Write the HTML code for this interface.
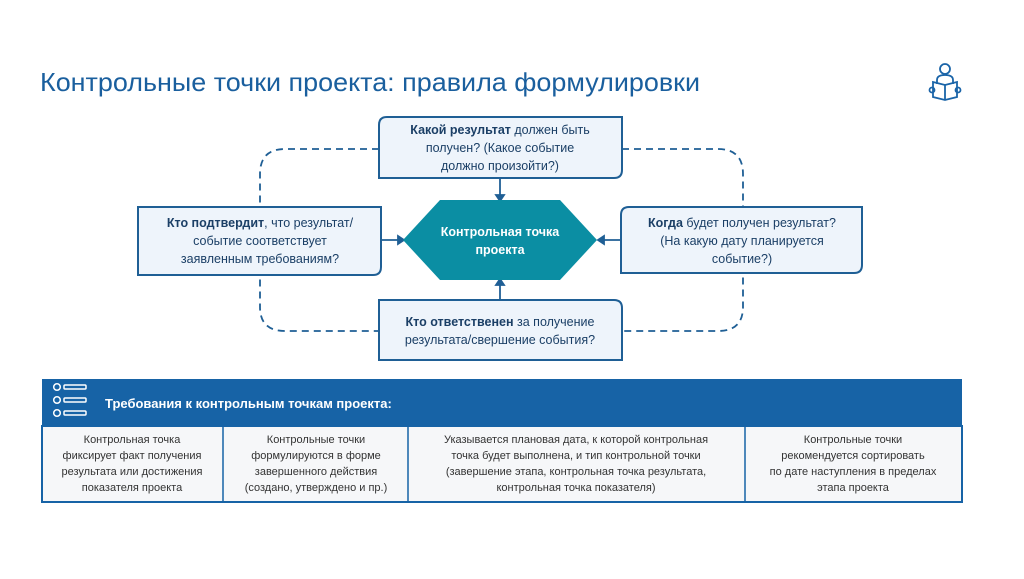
<!DOCTYPE html>
<html><head><meta charset="utf-8"><style>
html,body{margin:0;padding:0;background:#fff;}
body{width:1024px;height:574px;overflow:hidden;font-family:"Liberation Sans","DejaVu Sans",sans-serif;}
</style></head><body>
<svg width="1024" height="574" viewBox="0 0 1024 574" xmlns="http://www.w3.org/2000/svg" font-family="Liberation Sans, DejaVu Sans, sans-serif">
<rect width="1024" height="574" fill="#fff"/>
<text x="40" y="91" font-size="26" fill="#1a5f9e" textLength="660" lengthAdjust="spacingAndGlyphs">Контрольные точки проекта: правила формулировки</text>
<!-- icon -->
<g fill="none" stroke="#1a64a8" stroke-width="1.8">
<circle cx="945" cy="69" r="5"/>
<path d="M937 84 v-4 q0-5 8-5 q8 0 8 5 v4"/>
<path d="M933 82 l12 3 l12-3 v15 l-12 3 l-12-3 z"/>
<path d="M945 85 v15"/>
<circle cx="932" cy="90" r="2.5"/><circle cx="958" cy="90" r="2.5"/>
</g>
<!-- dashed loop -->
<path d="M379 149 H285 Q260 149 260 174 V307 Q260 331 285 331 H379 M622 149 H718 Q743 149 743 174 V307 Q743 331 718 331 H622" fill="none" stroke="#1f5f95" stroke-width="1.8" stroke-dasharray="7,5"/>
<!-- arrows -->
<g stroke="#1f5f95" stroke-width="1.8" fill="#1f5f95">
<line x1="500" y1="178" x2="500" y2="198"/><path d="M496 195 L500 201 L504 195 z"/>
<line x1="381" y1="240" x2="401" y2="240"/><path d="M398 236 L404 240 L398 244 z"/>
<line x1="621" y1="240" x2="601" y2="240"/><path d="M604 236 L598 240 L604 244 z"/>
<line x1="500" y1="300" x2="500" y2="283"/><path d="M496 285 L500 279 L504 285 z"/>
</g>
<!-- boxes -->
<g fill="#eef4fb" stroke="#1f5f95" stroke-width="2">
<path d="M387 117 H622 V170 Q622 178 614 178 H379 V125 Q379 117 387 117 z"/>
<path d="M138 207 H381 V267 Q381 275 373 275 H138 z"/>
<path d="M629 207 H862 V265 Q862 273 854 273 H621 V215 Q621 207 629 207 z"/>
<path d="M379 300 H614 Q622 300 622 308 V360 H379 z"/>
</g>
<polygon points="403,240 440,200 560,200 597,240 560,280 440,280" fill="#0b8ea3"/>
<g font-size="12.5" fill="#1b3f66" text-anchor="middle">
<text x="500" y="134"><tspan font-weight="bold">Какой результат</tspan> должен быть</text>
<text x="500" y="152">получен? (Какое событие</text>
<text x="500" y="170">должно произойти?)</text>
<text x="260" y="227"><tspan font-weight="bold">Кто подтвердит</tspan>, что результат/</text>
<text x="260" y="245">событие соответствует</text>
<text x="260" y="263">заявленным требованиям?</text>
<text x="742" y="227"><tspan font-weight="bold">Когда</tspan> будет получен результат?</text>
<text x="742" y="245">(На какую дату планируется</text>
<text x="742" y="263">событие?)</text>
<text x="500" y="326"><tspan font-weight="bold">Кто ответственен</tspan> за получение</text>
<text x="500" y="344">результата/свершение события?</text>
<text x="500" y="236" fill="#fff" font-weight="bold">Контрольная точка</text>
<text x="500" y="254" fill="#fff" font-weight="bold">проекта</text>
</g>
<!-- table -->
<rect x="42" y="379" width="920" height="47" fill="#1763a6"/>
<g fill="none" stroke="#fff" stroke-width="1.5">
<circle cx="57" cy="387" r="3.3"/><circle cx="57" cy="400" r="3.3"/><circle cx="57" cy="413" r="3.3"/>
<rect x="64" y="385" width="22" height="4" rx="1"/><rect x="64" y="398" width="22" height="4" rx="1"/><rect x="64" y="411" width="22" height="4" rx="1"/>
</g>
<text x="105" y="408" font-size="13" font-weight="bold" fill="#fff">Требования к контрольным точкам проекта:</text>
<rect x="42" y="426" width="920" height="76" fill="#f6f7f9" stroke="#1763a6" stroke-width="2"/>
<g stroke="#1763a6" stroke-width="1.5"><line x1="223" y1="426" x2="223" y2="502"/><line x1="408" y1="426" x2="408" y2="502"/><line x1="745" y1="426" x2="745" y2="502"/></g>
<g font-size="11" fill="#333" text-anchor="middle">
<text x="132" y="443">Контрольная точка</text><text x="132" y="459">фиксирует факт получения</text><text x="132" y="475">результата или достижения</text><text x="132" y="491">показателя проекта</text>
<text x="316" y="443">Контрольные точки</text><text x="316" y="459">формулируются в форме</text><text x="316" y="475">завершенного действия</text><text x="316" y="491">(создано, утверждено и пр.)</text>
<text x="576" y="443">Указывается плановая дата, к которой контрольная</text><text x="576" y="459">точка будет выполнена, и тип контрольной точки</text><text x="576" y="475">(завершение этапа, контрольная точка результата,</text><text x="576" y="491">контрольная точка показателя)</text>
<text x="853" y="443">Контрольные точки</text><text x="853" y="459">рекомендуется сортировать</text><text x="853" y="475">по дате наступления в пределах</text><text x="853" y="491">этапа проекта</text>
</g>
</svg>
</body></html>
